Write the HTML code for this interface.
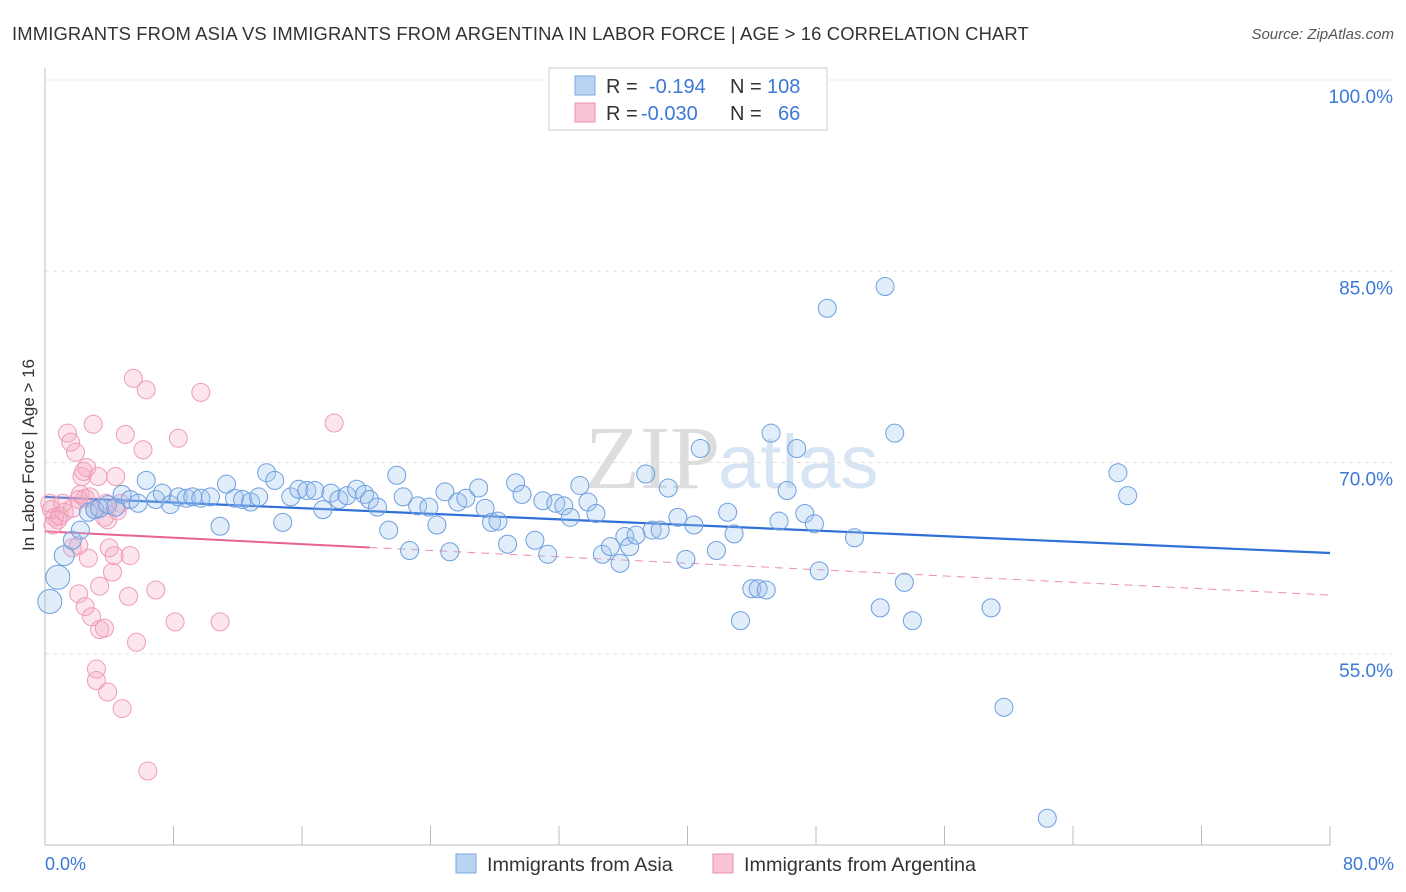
<!DOCTYPE html>
<html><head><meta charset="utf-8">
<style>
body{margin:0;background:#fff;font-family:"Liberation Sans",sans-serif;}
#wrap{position:relative;width:1406px;height:892px;overflow:hidden;}
</style></head>
<body>
<div id="wrap">
<svg id="chart" width="1406" height="892" xmlns="http://www.w3.org/2000/svg">
<text x="12" y="40" font-size="18.4" letter-spacing="0.15" fill="#333">IMMIGRANTS FROM ASIA VS IMMIGRANTS FROM ARGENTINA IN LABOR FORCE | AGE &gt; 16 CORRELATION CHART</text>
<text x="1394" y="39" font-size="15" fill="#555" font-style="italic" text-anchor="end">Source: ZipAtlas.com</text>
<text x="720" y="488" font-size="90" fill="#ddd" font-family="Liberation Serif" text-anchor="end">ZIP</text>
<text x="718" y="488" font-size="76" fill="#d7e4f3">atlas</text>
<g id="grid"></g>
<g id="axes"></g>
<g id="trends"></g>
<g id="points"></g>
<text transform="translate(34,455) rotate(-90)" font-size="17" fill="#333" text-anchor="middle">In Labor Force | Age &gt; 16</text>
<text x="45" y="870" font-size="18" fill="#3b78d8">0.0%</text>
<text x="1394" y="870" font-size="18" fill="#3b78d8" text-anchor="end">80.0%</text>
<g>
<rect x="549" y="68" width="278" height="62" fill="#fff" stroke="#ccc"/>
<rect x="575" y="76" width="20" height="19" fill="#b9d3f3" stroke="#7aa7e0"/>
<rect x="575" y="103" width="20" height="19" fill="#f9c5d5" stroke="#eb8fae"/>
<text x="606" y="93" font-size="20" fill="#333">R =</text>
<text x="649" y="93" font-size="20" fill="#3b78d8">-0.194</text>
<text x="730" y="93" font-size="20" fill="#333">N =</text>
<text x="767" y="93" font-size="20" fill="#3b78d8">108</text>
<text x="606" y="120" font-size="20" fill="#333">R =</text>
<text x="641" y="120" font-size="20" fill="#3b78d8">-0.030</text>
<text x="730" y="120" font-size="20" fill="#333">N =</text>
<text x="778" y="120" font-size="20" fill="#3b78d8">66</text>
</g>
<g>
<rect x="456" y="854" width="20" height="19" fill="#b9d3f3" stroke="#7aa7e0"/>
<text x="487" y="871" font-size="19.8" fill="#333">Immigrants from Asia</text>
<rect x="713" y="854" width="20" height="19" fill="#f9c5d5" stroke="#eb8fae"/>
<text x="744" y="871" font-size="19.8" fill="#333">Immigrants from Argentina</text>
</g>
</svg>
</div>
<script>
const yTicks=[55,70,85,100];
const yTickLabels=["55.0%","70.0%","85.0%","100.0%"];
const xTicks=[0,8,16,24,32,40,48,56,64,72,80];
const asiaX=[0.3,0.8,1.2,1.7,2.2,2.7,3.1,3.4,3.9,4.4,4.8,5.3,5.8,6.3,6.9,7.3,7.8,8.3,8.8,9.2,9.7,10.3,10.9,11.3,11.8,12.3,12.8,13.3,13.8,14.3,14.8,15.3,15.8,16.3,16.8,17.3,17.8,18.3,18.8,19.4,19.9,20.2,20.7,21.4,21.9,22.3,22.7,23.2,23.9,24.4,24.9,25.2,25.7,26.2,27.0,27.4,27.8,28.2,28.8,29.3,29.7,30.5,31.0,31.3,31.8,32.3,32.7,33.3,33.8,34.3,34.7,35.2,35.8,36.1,36.4,36.8,37.4,37.8,38.3,38.8,39.4,39.9,40.4,40.8,41.8,42.5,42.9,43.3,44.0,44.4,44.9,45.2,45.7,46.2,46.8,47.3,47.9,48.2,48.7,50.4,52.0,52.3,52.9,53.5,54.0,58.9,59.7,62.4,66.8,67.4];
const asiaY=[59.1,61.0,62.7,63.9,64.7,66.1,66.3,66.4,66.7,66.5,67.5,67.1,66.8,68.6,67.1,67.6,66.7,67.3,67.2,67.3,67.2,67.3,65.0,68.3,67.2,67.1,66.9,67.3,69.2,68.6,65.3,67.3,67.9,67.8,67.8,66.3,67.6,67.1,67.4,67.9,67.5,67.1,66.5,64.7,69.0,67.3,63.1,66.6,66.5,65.1,67.7,63.0,66.9,67.2,68.0,66.4,65.3,65.4,63.6,68.4,67.5,63.9,67.0,62.8,66.8,66.6,65.7,68.2,66.9,66.0,62.8,63.4,62.1,64.2,63.4,64.3,69.1,64.7,64.7,68.0,65.7,62.4,65.1,71.1,63.1,66.1,64.4,57.6,60.1,60.1,60.0,72.3,65.4,67.8,71.1,66.0,65.2,61.5,82.1,64.1,58.6,83.8,72.3,60.6,57.6,58.6,50.8,42.1,69.2,67.4];
const argX=[0.3,0.4,0.6,0.8,0.5,0.9,1.1,1.2,1.4,1.6,1.7,1.9,2.1,2.2,2.3,2.4,2.5,2.6,2.7,2.8,3.0,3.1,3.3,3.4,3.7,3.8,3.9,4.0,4.2,4.3,4.4,4.5,4.7,4.8,5.0,5.2,5.3,5.5,5.7,6.1,6.3,6.4,6.9,8.1,8.3,9.7,10.9,18.0,3.2,3.2,3.9,3.4,3.7,2.1,2.5,2.9,1.7,2.1];
const argY=[66.8,66.3,65.7,65.5,65.1,65.8,66.8,66.1,72.3,71.6,66.4,70.8,67.1,67.5,68.9,69.3,67.2,69.6,62.5,67.3,73.0,66.3,68.9,60.3,65.7,66.8,65.5,63.3,61.4,62.7,68.9,66.2,66.8,50.7,72.2,59.5,62.7,76.6,55.9,71.0,75.7,45.8,60.0,57.5,71.9,75.5,57.5,73.1,53.8,52.9,52.0,56.9,57.0,59.7,58.7,57.9,63.3,63.5];
const asiaTrend=[67.3,62.9];
const argTrend=[64.6,59.6];
const argSolidEnd=20.2;

const NS="http://www.w3.org/2000/svg";
const X0=45,X1=1330,Y0=845,Y1=80;
function sx(v){return X0+(v-0)/(80-0)*(X1-X0);}
function sy(v){return Y0-(v-40)/(100-40)*(Y0-Y1);}
function mk(tag,attrs,parent){const e=document.createElementNS(NS,tag);for(const k in attrs)e.setAttribute(k,attrs[k]);parent.appendChild(e);return e;}
const grid=document.getElementById('grid'),axes=document.getElementById('axes'),trends=document.getElementById('trends'),pts=document.getElementById('points');
yTicks.forEach((t,i)=>{
  const l=mk('line',{x1:X0,x2:1394,y1:sy(t),y2:sy(t),stroke:'#e3e3e3','stroke-dasharray':'4,4'},grid);
  
  
  const tx=mk('text',{x:1393,y:sy(t)+23,'font-size':19,fill:'#3b78d8','text-anchor':'end'},grid);
  tx.textContent=yTickLabels[i];
  
  
});
const ya=mk('line',{x1:X0,x2:X0,y1:68,y2:Y0,stroke:'#bbb'},axes);


const xa=mk('line',{x1:X0,x2:X1,y1:Y0,y2:Y0,stroke:'#bbb'},axes);


xTicks.forEach(t=>{
  const l=mk('line',{x1:sx(t),x2:sx(t),y1:826,y2:Y0,stroke:'#bbb'},axes);
  
  
});
function drawPts(xs,ys,fill,stroke,name){
  xs.forEach((x,i)=>{
    const r=(i<2&&name==='asia-point')?12:(i<3&&name==='asia-point'?10:9);
    const c=mk('circle',{cx:sx(x),cy:sy(ys[i]),r:r,fill:fill,stroke:stroke,'stroke-width':1},pts);
    
    
  });
}
drawPts(argX,argY,'rgba(246,170,195,0.3)','#f09cb8','argentina-point');
drawPts(asiaX,asiaY,'rgba(160,195,240,0.3)','#6d9fe0','asia-point');
const bt=mk('line',{x1:sx(0),y1:sy(asiaTrend[0]),x2:sx(80),y2:sy(asiaTrend[1]),stroke:'#2f6fd6','stroke-width':2.2},trends);


const pAt=x=>argTrend[0]+(argTrend[1]-argTrend[0])*x/80;
const ps=mk('line',{x1:sx(0),y1:sy(pAt(0)),x2:sx(argSolidEnd),y2:sy(pAt(argSolidEnd)),stroke:'#e8628f','stroke-width':2},trends);


const pd=mk('line',{x1:sx(argSolidEnd),y1:sy(pAt(argSolidEnd)),x2:sx(80),y2:sy(pAt(80)),stroke:'#eb8fae','stroke-width':1,'stroke-dasharray':'8,6'},trends);


</script>
</body></html>
